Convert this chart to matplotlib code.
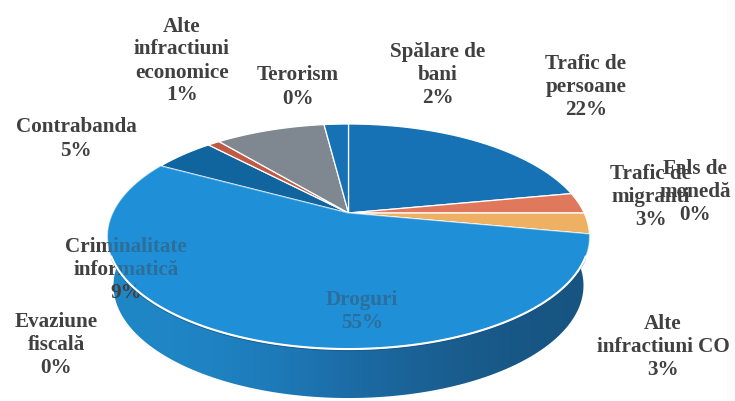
import numpy as np
from matplotlib import pyplot as plt
from matplotlib.patches import Polygon

# slices, clockwise from 12 o'clock
categories = ["Trafic de\npersoane", "Trafic de\nmigranti", "Alte\ninfractiuni CO", "Fals de\nmonedă",
              "Droguri", "Evaziune\nfiscală", "Contrabanda", "Alte\ninfractiuni\neconomice",
              "Criminalitate\ninformatică", "Terorism", "Spălare de\nbani"]
values = [22, 3, 3, 0, 55, 0, 5, 1, 9, 0, 2]
colors = ["#1672b4", "#e0785c", "#eeb062", "#a5a5a5", "#1f8fd8", "#4472c4",
          "#11659f", "#c05a45", "#7f8790", "#264478", "#1672b4"]

# label centres in pixels
label_x = [586, 651, 663, 695, 362, 56, 76, 182, 126, 298, 438]
label_y = [87, 197, 347, 192, 311, 345, 139, 61, 270, 87, 75]

apex_x, apex_y = 348.5, 213
a, b, k = 235.7, 107.6, 0.209
depth = 49


def project(theta):
    """
    Perspective view of the unit circle, theta in degrees clockwise from the top.
    """
    u = np.sin(np.radians(theta))
    v = np.cos(np.radians(theta))
    w = 1 + k * v
    return apex_x + a * u / w, apex_y - b * v / w


def rim(start, stop, n=120):
    x, y = project(np.linspace(start, stop, n))
    return np.column_stack([x, y])


fig = plt.figure(figsize=(7.35, 4.01), dpi=100)
ax = fig.add_axes([0, 0, 1, 1])
ax.set_xlim(0, 735)
ax.set_ylim(401, 0)
ax.axis("off")

# side wall of the pie
top_edge = rim(75, 285, 200)
low_edge = top_edge.copy()
low_edge[:, 0] = apex_x + (low_edge[:, 0] - apex_x) * 0.975
low_edge[:, 1] = low_edge[:, 1] + depth
side = Polygon(np.vstack([top_edge, low_edge[::-1]]), closed=True, fc="none", ec="none")
ax.add_patch(side)
shade = np.array([[0.125, 0.53, 0.78], [0.12, 0.50, 0.75], [0.11, 0.42, 0.65],
                  [0.10, 0.37, 0.56], [0.09, 0.33, 0.51]])
img = ax.imshow(shade[np.newaxis, :, :], extent=(107, 590, 401, 230), aspect="auto",
                interpolation="bicubic", zorder=1)
img.set_clip_path(side)
ax.set_xlim(0, 735)
ax.set_ylim(401, 0)

# top face
edges = np.cumsum([0] + values) / sum(values) * 360
for i, val in enumerate(values):
    if val == 0:
        continue
    pts = np.vstack([[[apex_x, apex_y]], rim(edges[i], edges[i + 1])])
    ax.add_patch(Polygon(pts, closed=True, fc=colors[i], ec="white", lw=0.9, zorder=2))
    if categories[i] == "Droguri":
        # see-through copy above the labels, washes them out on the blue face
        ax.add_patch(Polygon(pts, closed=True, fc=colors[i], ec="none", alpha=0.6, zorder=5))

# white line along the front rim
front = rim(112, 248)
ax.plot(front[:, 0], front[:, 1], color="white", lw=1.5, zorder=6)
ax.plot(front[:, 0], front[:, 1] + 1.6, color="#14527f", lw=0.8, alpha=0.6, zorder=3)

font = {"family": "Liberation Serif", "weight": "bold", "size": 15.2,
        "ha": "center", "va": "center", "linespacing": 1.2}
for i, cat in enumerate(categories):
    ax.text(label_x[i], label_y[i], f"{cat}\n{values[i]}%", color="#404040", zorder=4, **font)

# faint scan edge on the right
ax.axvspan(727, 735, color="#fbfbfb", lw=0, zorder=0)

fig.savefig("out.png", dpi=100)
